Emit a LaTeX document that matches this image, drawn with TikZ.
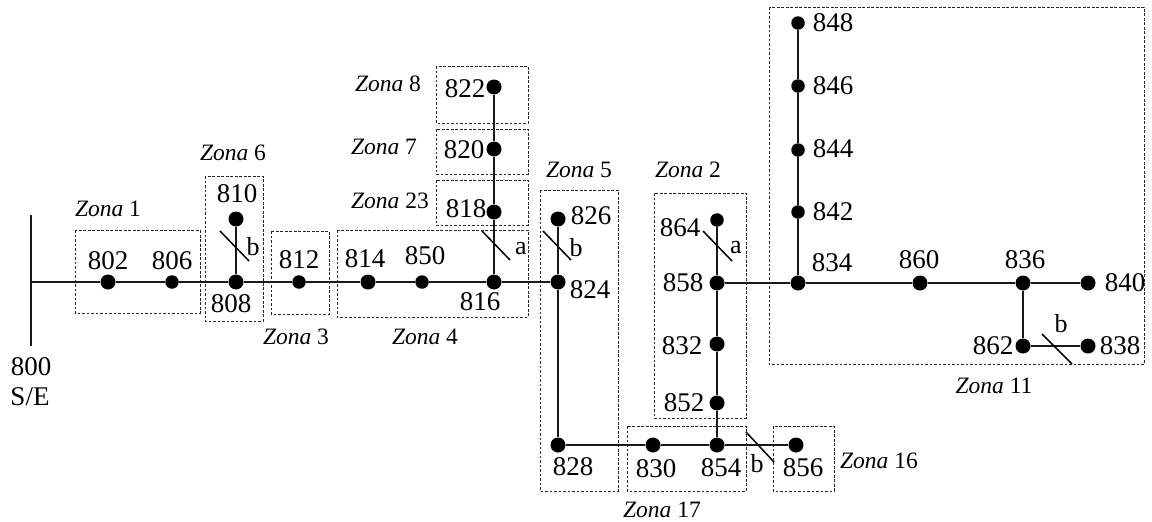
\documentclass[tikz,border=0pt]{standalone}
\usepackage{fontspec}
\setmainfont{Liberation Serif}
\tikzset{
  bus/.style={circle,fill=black,inner sep=0pt,minimum size=15pt},
  busS/.style={circle,fill=black,inner sep=0pt,minimum size=13.5pt},
  lbl/.style={inner sep=0pt,font=\fontsize{27}{27}\selectfont},
  phase/.style={inner sep=0pt,font=\fontsize{26}{26}\selectfont},
  zlbl/.style={inner sep=0pt,font=\fontsize{23.5}{24}\selectfont},
  wire/.style={line width=1.8pt,draw=black!90},
  tick/.style={line width=1.5pt,draw=black},
  zone/.style={draw=black!85,line width=1pt,dash pattern=on 2.6pt off 1.9pt},
}
\newcommand{\zn}[1]{\textit{Zona} #1}
\begin{document}
\begin{tikzpicture}[x=1pt,y=-1pt]
\useasboundingbox (0,0) rectangle (1152,522);
% zones
\draw[zone] (75,230) rectangle (200,313);
\draw[zone] (205,176) rectangle (263,321);
\draw[zone] (271,231) rectangle (329,314);
\draw[zone] (337,230) rectangle (528,317);
\draw[zone] (436,180) rectangle (528,225);
\draw[zone] (436,129) rectangle (528,174);
\draw[zone] (436,66) rectangle (528,123);
\draw[zone] (540,190) rectangle (618,491);
\draw[zone] (654,193) rectangle (746,418);
\draw[zone] (627,426) rectangle (746,491);
\draw[zone] (773,426) rectangle (834,491);
\draw[zone] (769,7) rectangle (1144,364);
% buses
\node[bus] (n802) at (108,282) {};
\node[busS] (n806) at (172,282) {};
\node[bus] (n808) at (236,282) {};
\node[bus] (n810) at (236,219) {};
\node[busS] (n812) at (299,282) {};
\node[bus] (n814) at (368,282) {};
\node[busS] (n850) at (422,282) {};
\node[bus] (n816) at (494,282) {};
\node[bus] (n818) at (494,212) {};
\node[bus] (n820) at (494,149) {};
\node[bus] (n822) at (494,87) {};
\node[bus] (n824) at (558,282) {};
\node[bus] (n826) at (558,219) {};
\node[bus] (n828) at (558,445) {};
\node[bus] (n830) at (653,445) {};
\node[bus] (n854) at (717,445) {};
\node[bus] (n856) at (796,445) {};
\node[bus] (n852) at (717,403) {};
\node[bus] (n832) at (717,344) {};
\node[bus] (n858) at (717,283) {};
\node[busS] (n864) at (717,220) {};
\node[bus] (n834) at (798,283) {};
\node[busS] (n842) at (798,212) {};
\node[busS] (n844) at (798,150) {};
\node[busS] (n846) at (798,86) {};
\node[busS] (n848) at (798,23) {};
\node[bus] (n860) at (920,283) {};
\node[bus] (n836) at (1023,283) {};
\node[bus] (n840) at (1088,283) {};
\node[bus] (n862) at (1023,346) {};
\node[bus] (n838) at (1088,346) {};
\coordinate (bt) at (31,215);
\coordinate (bm) at (31,282);
\coordinate (bb) at (31,346);
% wires
\draw[wire] (bt) -- (bb);
\draw[wire] (bm) -- (n802) -- (n806) -- (n808) -- (n812) -- (n814) -- (n850) -- (n816) -- (n824);
\draw[wire] (n808) -- (n810);
\draw[wire] (n816) -- (n818) -- (n820) -- (n822);
\draw[wire] (n826) -- (n824) -- (n828) -- (n830) -- (n854) -- (n856);
\draw[wire] (n854) -- (n852) -- (n832) -- (n858) -- (n864);
\draw[wire] (n858) -- (n834) -- (n860) -- (n836) -- (n840);
\draw[wire] (n834) -- (n842) -- (n844) -- (n846) -- (n848);
\draw[wire] (n836) -- (n862) -- (n838);
% phase ticks
\coordinate (t1a) at (220,231); \coordinate (t1b) at (249,261);
\coordinate (t2a) at (482,231); \coordinate (t2b) at (510,260);
\coordinate (t3a) at (543,231); \coordinate (t3b) at (571,260);
\coordinate (t4a) at (703,231); \coordinate (t4b) at (732,261);
\coordinate (t5a) at (1042,334); \coordinate (t5b) at (1072,364);
\coordinate (t6a) at (746,432); \coordinate (t6b) at (774,462);
\draw[tick] (t1a) -- (t1b);
\draw[tick] (t2a) -- (t2b);
\draw[tick] (t3a) -- (t3b);
\draw[tick] (t4a) -- (t4b);
\draw[tick] (t5a) -- (t5b);
\draw[tick] (t6a) -- (t6b);
% bus labels
\node[lbl] (l802) at (108,261) {802};
\node[lbl] (l806) at (172,261) {806};
\node[lbl] (l810) at (237,194) {810};
\node[lbl] (l808) at (231,304) {808};
\node[lbl] (l812) at (299,260) {812};
\node[lbl] (l814) at (365,259) {814};
\node[lbl] (l850) at (425,256) {850};
\node[lbl] (l816) at (480,302) {816};
\node[lbl] (l818) at (466,209) {818};
\node[lbl] (l820) at (464,150) {820};
\node[lbl] (l822) at (465,89) {822};
\node[lbl] (l826) at (591,216) {826};
\node[lbl] (l824) at (590,290) {824};
\node[lbl] (l828) at (573,467) {828};
\node[lbl] (l830) at (656,469) {830};
\node[lbl] (l854) at (721,468) {854};
\node[lbl] (l856) at (803,468) {856};
\node[lbl] (l852) at (684,403) {852};
\node[lbl] (l832) at (682,346) {832};
\node[lbl] (l858) at (683,283) {858};
\node[lbl] (l864) at (680,228) {864};
\node[lbl] (l834) at (832,263) {834};
\node[lbl] (l842) at (833,212) {842};
\node[lbl] (l844) at (833,149) {844};
\node[lbl] (l846) at (833,86) {846};
\node[lbl] (l848) at (833,23) {848};
\node[lbl] (l860) at (919,260) {860};
\node[lbl] (l836) at (1025,260) {836};
\node[lbl] (l840) at (1125,283) {840};
\node[lbl] (l862) at (993,346) {862};
\node[lbl] (l838) at (1120,346) {838};
\node[lbl] (l800) at (31,367) {800};
\node[lbl] (lSE) at (30,397) {S/E};
% phase labels
\node[phase] (pb1) at (253,247) {b};
\node[phase] (pa2) at (521,249) {a};
\node[phase] (pb3) at (576,248) {b};
\node[phase] (pa4) at (736,248) {a};
\node[phase] (pb5) at (1061,324) {b};
\node[phase] (pb6) at (757,464) {b};
% zone labels
\node[zlbl] (z1) at (108,209) {\zn{1}};
\node[zlbl] (z6) at (233,153) {\zn{6}};
\node[zlbl] (z3) at (296,337) {\zn{3}};
\node[zlbl] (z4) at (425,337) {\zn{4}};
\node[zlbl] (z8) at (388,84) {\zn{8}};
\node[zlbl] (z7) at (384,147) {\zn{7}};
\node[zlbl] (z23) at (390,201) {\zn{23}};
\node[zlbl] (z5) at (579,170) {\zn{5}};
\node[zlbl] (z2) at (688,170) {\zn{2}};
\node[zlbl] (z11) at (994,386) {\zn{11}};
\node[zlbl] (z16) at (879,461) {\zn{16}};
\node[zlbl] (z17) at (662,510) {\zn{17}};
\end{tikzpicture}
\end{document}
